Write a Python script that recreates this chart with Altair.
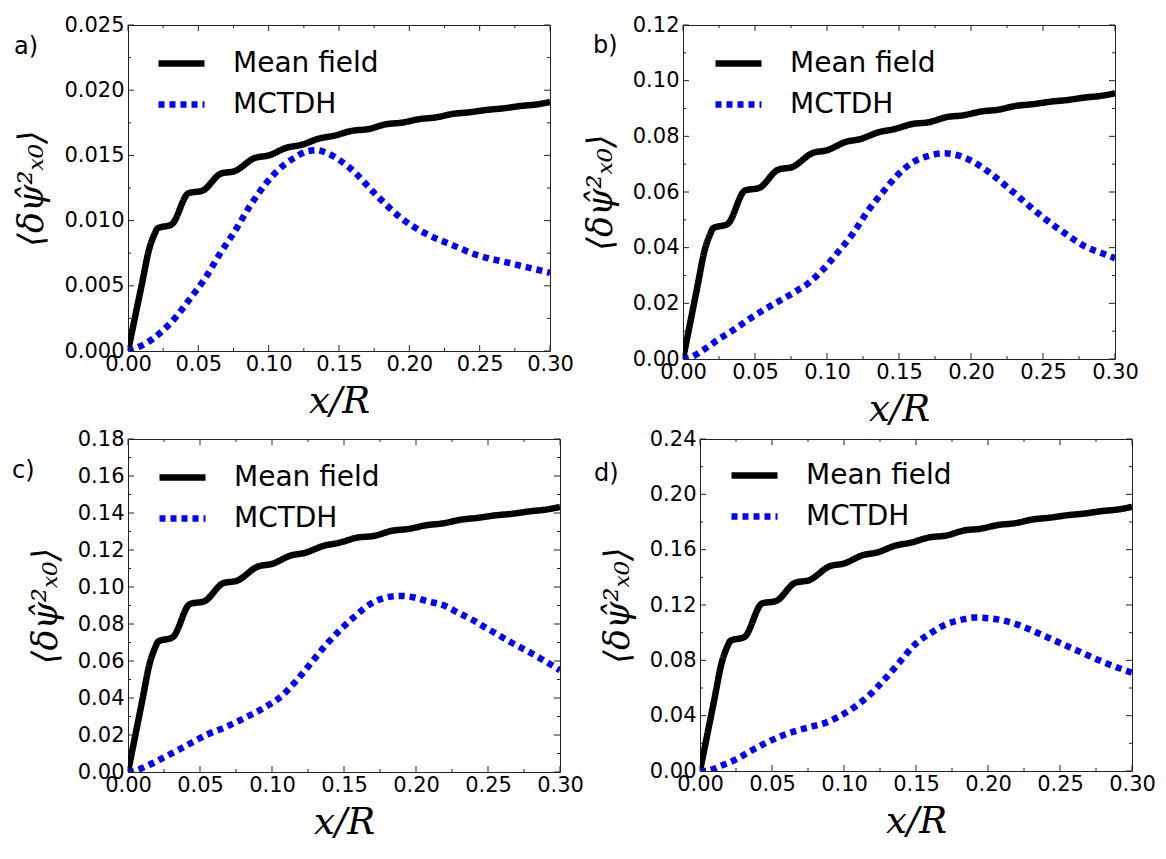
import altair as alt
import pandas as pd

SERIES = ["Mean field", "MCTDH"]
COLORS = ["#000000", "#0000ff"]
DASHES = [[1, 0], [6, 5]]

Y_TITLE = "⟨δψ̂²ₓ₀⟩"
X_TITLE = "x/R"

X_MAJOR = [0.00, 0.05, 0.10, 0.15, 0.20, 0.25, 0.30]
X_MINOR = [0.025, 0.075, 0.125, 0.175, 0.225, 0.275]

# x positions shared by the mean-field curves
MF_X = [0.000, 0.005, 0.010, 0.015, 0.019, 0.021, 0.031, 0.043, 0.053, 0.066,
        0.076, 0.090, 0.100, 0.113, 0.123, 0.136, 0.146, 0.160, 0.170, 0.184,
        0.194, 0.208, 0.218, 0.232, 0.242, 0.256, 0.266, 0.280, 0.290, 0.300]

MF_A = [0.0000, 0.0026, 0.0052, 0.0078, 0.0090, 0.0094, 0.0097, 0.0121, 0.0123, 0.0136,
        0.0138, 0.0148, 0.0150, 0.0156, 0.0158, 0.0163, 0.0165, 0.0169, 0.0170, 0.0174,
        0.0175, 0.0178, 0.0179, 0.0182, 0.0183, 0.0185, 0.0186, 0.0188, 0.0189, 0.0191]
MF_B = [0.000, 0.013, 0.026, 0.039, 0.045, 0.047, 0.0485, 0.0605, 0.0615, 0.068,
        0.069, 0.074, 0.075, 0.078, 0.079, 0.0815, 0.0825, 0.0845, 0.085, 0.087,
        0.0875, 0.089, 0.0895, 0.091, 0.0915, 0.0925, 0.093, 0.094, 0.0945, 0.0955]
MF_C = [0.000, 0.0195, 0.039, 0.0585, 0.0675, 0.0705, 0.0728, 0.0908, 0.0923, 0.102,
        0.1035, 0.111, 0.1125, 0.117, 0.1185, 0.1223, 0.1238, 0.1268, 0.1275, 0.1305,
        0.1313, 0.1335, 0.1343, 0.1365, 0.1373, 0.1388, 0.1395, 0.141, 0.1418, 0.1433]
MF_D = [0.000, 0.026, 0.052, 0.078, 0.090, 0.094, 0.097, 0.121, 0.123, 0.136,
        0.138, 0.148, 0.150, 0.156, 0.158, 0.163, 0.165, 0.169, 0.170, 0.174,
        0.175, 0.178, 0.179, 0.182, 0.183, 0.185, 0.186, 0.188, 0.189, 0.191]

MC_A_X = [0.000, 0.005, 0.013, 0.023, 0.034, 0.044, 0.055, 0.065, 0.076, 0.086,
          0.097, 0.107, 0.118, 0.127, 0.134, 0.141, 0.157, 0.178, 0.194, 0.210,
          0.231, 0.247, 0.273, 0.300]
MC_A_Y = [0.0000, 0.0002, 0.0006, 0.0014, 0.0026, 0.0040, 0.0056, 0.0074, 0.0092, 0.0110,
          0.0127, 0.0139, 0.0148, 0.0153, 0.0154, 0.0152, 0.0141, 0.0118, 0.0102, 0.0091,
          0.0081, 0.0074, 0.0067, 0.0060]

MC_B_X = [0.000, 0.005, 0.014, 0.024, 0.035, 0.045, 0.056, 0.066, 0.076, 0.087,
          0.097, 0.107, 0.118, 0.128, 0.139, 0.149, 0.159, 0.170, 0.181, 0.190,
          0.201, 0.214, 0.227, 0.240, 0.253, 0.266, 0.279, 0.292, 0.300]
MC_B_Y = [0.0000, 0.0005, 0.0032, 0.0068, 0.0104, 0.0140, 0.0176, 0.0206, 0.0236, 0.0272,
          0.0320, 0.0380, 0.0451, 0.0529, 0.0601, 0.0661, 0.0705, 0.0729, 0.0739, 0.0733,
          0.0710, 0.0665, 0.0610, 0.0552, 0.0497, 0.0449, 0.0405, 0.0378, 0.0362]

MC_C_X = [0.000, 0.004, 0.014, 0.024, 0.035, 0.045, 0.055, 0.066, 0.076, 0.086,
          0.096, 0.107, 0.117, 0.127, 0.137, 0.148, 0.158, 0.168, 0.179, 0.189,
          0.199, 0.207, 0.220, 0.229, 0.238, 0.248, 0.258, 0.268, 0.279, 0.289, 0.300]
MC_C_Y = [0.0000, 0.0005, 0.0036, 0.0075, 0.0120, 0.0162, 0.0203, 0.0237, 0.0273, 0.0311,
          0.0354, 0.0413, 0.0494, 0.0588, 0.0683, 0.0773, 0.0845, 0.0907, 0.0943, 0.0952,
          0.0943, 0.0925, 0.0898, 0.0862, 0.0827, 0.0782, 0.0737, 0.0692, 0.0647, 0.0602, 0.0550]

MC_D_X = [0.000, 0.004, 0.014, 0.025, 0.035, 0.046, 0.056, 0.066, 0.077, 0.087,
          0.097, 0.108, 0.118, 0.129, 0.139, 0.149, 0.160, 0.170, 0.181, 0.191,
          0.201, 0.214, 0.227, 0.240, 0.253, 0.266, 0.279, 0.300]
MC_D_Y = [0.0000, 0.0000, 0.0036, 0.0084, 0.0144, 0.0204, 0.0252, 0.0288, 0.0319, 0.0348,
          0.0396, 0.0468, 0.0552, 0.0672, 0.0792, 0.0912, 0.0996, 0.1056, 0.1092, 0.1109,
          0.1104, 0.1080, 0.1032, 0.0972, 0.0912, 0.0852, 0.0792, 0.0710]

A_MAJOR = [0.000, 0.005, 0.010, 0.015, 0.020, 0.025]
A_MINOR = [0.0025, 0.0075, 0.0125, 0.0175, 0.0225]
B_MAJOR = [0.00, 0.02, 0.04, 0.06, 0.08, 0.10, 0.12]
B_MINOR = [0.01, 0.03, 0.05, 0.07, 0.09, 0.11]
C_MAJOR = [0.00, 0.02, 0.04, 0.06, 0.08, 0.10, 0.12, 0.14, 0.16, 0.18]
C_MINOR = [0.01, 0.03, 0.05, 0.07, 0.09, 0.11, 0.13, 0.15, 0.17]
D_MAJOR = [0.00, 0.04, 0.08, 0.12, 0.16, 0.20, 0.24]
D_MINOR = [0.02, 0.06, 0.10, 0.14, 0.18, 0.22]

FRAME = "#222222"
MAJOR_LEN = 6
MINOR_LEN = 3


def tick_layer(values, chan, side, w, h, length, xs, ys):
    """Inward tick marks drawn as short rules on one side of the frame."""
    if chan == "x":
        df = pd.DataFrame({"x": values})
        enc = {"x": alt.X("x:Q", scale=xs, axis=None)}
        if side == "bottom":
            enc.update(y=alt.value(h), y2=alt.value(h - length))
        else:
            enc.update(y=alt.value(0), y2=alt.value(length))
    else:
        df = pd.DataFrame({"y": values})
        enc = {"y": alt.Y("y:Q", scale=ys, axis=None)}
        if side == "left":
            enc.update(x=alt.value(0), x2=alt.value(length))
        else:
            enc.update(x=alt.value(w), x2=alt.value(w - length))
    return alt.Chart(df).mark_rule(color=FRAME, strokeWidth=1).encode(**enc)


def panel(label, mf_y, mc_x, mc_y, y_max, y_major, y_minor, y_fmt, w, h, lab_pos, leg_pos):
    xs = alt.Scale(domain=[0, 0.30], nice=False, zero=False)
    ys = alt.Scale(domain=[0, y_max], nice=False, zero=False)

    df = pd.concat([
        pd.DataFrame({"x": MF_X, "y": mf_y, "series": SERIES[0]}),
        pd.DataFrame({"x": mc_x, "y": mc_y, "series": SERIES[1]}),
    ], ignore_index=True)

    legend = alt.Legend(
        orient="none", legendX=leg_pos[0], legendY=leg_pos[1], title=None,
        symbolType="stroke", symbolSize=2116, symbolStrokeWidth=6.5,
        labelFont="DejaVu Sans", labelFontSize=28, labelColor="black",
        labelOffset=25, rowPadding=-9, padding=0,
    )

    lines = alt.Chart(df).mark_line(
        strokeWidth=6.5, strokeCap="butt", interpolate="monotone", clip=True
    ).encode(
        x=alt.X("x:Q", scale=xs, axis=alt.Axis(
            values=X_MAJOR, format=".2f", title=X_TITLE, labelPadding=2, titlePadding=9,
            labelFlush=False, labelOverlap=False)),
        y=alt.Y("y:Q", scale=ys, axis=alt.Axis(
            values=y_major, format=y_fmt, title=Y_TITLE, labelPadding=4, titlePadding=14,
            titleFontSize=35, labelFlush=False, labelOverlap=False)),
        color=alt.Color("series:N", scale=alt.Scale(domain=SERIES, range=COLORS), legend=legend),
        strokeDash=alt.StrokeDash("series:N", scale=alt.Scale(domain=SERIES, range=DASHES), legend=legend),
    )

    ticks = []
    for vals, ln in ((X_MAJOR, MAJOR_LEN), (X_MINOR, MINOR_LEN)):
        ticks.append(tick_layer(vals, "x", "bottom", w, h, ln, xs, ys))
        ticks.append(tick_layer(vals, "x", "top", w, h, ln, xs, ys))
    for vals, ln in ((y_major, MAJOR_LEN), (y_minor, MINOR_LEN)):
        ticks.append(tick_layer(vals, "y", "left", w, h, ln, xs, ys))
        ticks.append(tick_layer(vals, "y", "right", w, h, ln, xs, ys))

    tag = alt.Chart(pd.DataFrame({"t": [label]})).mark_text(
        font="DejaVu Sans", fontSize=24, align="left", baseline="middle", color="black"
    ).encode(text="t:N", x=alt.value(lab_pos[0]), y=alt.value(lab_pos[1]))

    return (
        alt.layer(lines, *ticks, tag)
        .resolve_axis(x="independent", y="independent")
        .properties(width=w, height=h)
    )


pa = panel("a)", MF_A, MC_A_X, MC_A_Y, 0.025, A_MAJOR, A_MINOR, ".3f", 422, 326, (-114, 22), (27, 12))
pb = panel("b)", MF_B, MC_B_X, MC_B_Y, 0.12, B_MAJOR, B_MINOR, ".2f", 432, 334, (-90, 21), (29, 12))
pc = panel("c)", MF_C, MC_C_X, MC_C_Y, 0.18, C_MAJOR, C_MINOR, ".2f", 432, 333, (-116, 32), (28, 12))
pd_ = panel("d)", MF_D, MC_D_X, MC_D_Y, 0.24, D_MAJOR, D_MINOR, ".2f", 432, 332, (-106, 35), (28, 10))

indep = dict(color="independent", strokeDash="independent")

row1 = alt.hconcat(pa, pb, spacing=8).resolve_scale(**indep).resolve_legend(**indep)
row2 = alt.hconcat(pc, pd_, spacing=9).resolve_scale(**indep).resolve_legend(**indep)

chart = (
    alt.vconcat(row1, row2, spacing=-1)
    .resolve_scale(**indep)
    .resolve_legend(**indep)
    .properties(padding={"left": 11, "top": 13, "right": 0, "bottom": 0}, background="white")
    .configure_view(stroke=FRAME, strokeWidth=1)
    .configure_axis(
        labelFont="DejaVu Sans", labelFontSize=21, labelColor="black",
        titleFont="DejaVu Serif", titleFontSize=37, titleFontStyle="italic",
        titleFontWeight="normal", titleColor="black",
        ticks=False, domain=False, grid=False, labelOverlap=False, labelFlush=False,
    )
)

chart.save("out.html", embed_options={"renderer": "svg", "actions": False})
